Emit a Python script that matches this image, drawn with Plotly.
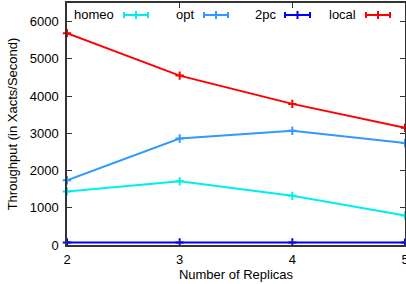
import plotly.graph_objects as go

replicas = [2, 3, 4, 5]
homeo = [1440, 1710, 1320, 790]
opt = [1740, 2860, 3070, 2740]
twopc = [70, 70, 70, 65]
local = [5690, 4550, 3790, 3150]

series_names = ["homeo", "opt", "2pc", "local"]
series_values = [homeo, opt, twopc, local]
series_colors = ["#00EEEE", "#3399FF", "#0000FF", "#FF0000"]

W, H = 406, 284
ML, MR, MT, MB = 67, 1, 3, 39
PW, PH = W - ML - MR, H - MT - MB

fig = go.Figure()
for name, vals, col in zip(series_names, series_values, series_colors):
    fig.add_trace(go.Scatter(
        x=replicas, y=vals, name=name, mode="lines+markers",
        line=dict(color=col, width=2),
        marker=dict(symbol="cross-thin", size=6, line=dict(color=col, width=2), color=col),
        showlegend=False, cliponaxis=False,
    ))

def px2paper_x(px):
    return (px - ML) / PW

def px2paper_y(py):
    return (H - MB - py) / PH

# legend (gnuplot style: text then sample)
leg_text_right = [116, 196, 278, 358]
leg_sample = [(124, 148), (204, 228), (285, 310), (366, 390)]
leg_y = 15
shapes = []
annotations = []
for name, col, tr, (s0, s1) in zip(series_names, series_colors, leg_text_right, leg_sample):
    annotations.append(dict(
        x=px2paper_x(tr), y=px2paper_y(leg_y), xref="paper", yref="paper",
        text=name, showarrow=False, xanchor="right", yanchor="middle",
        font=dict(family="Liberation Sans, Arial, sans-serif", size=13, color="black"),
    ))
    y = px2paper_y(leg_y)
    yu = px2paper_y(leg_y - 3)
    yd = px2paper_y(leg_y + 3)
    xm = px2paper_x((s0 + s1) / 2)
    shapes.append(dict(type="line", xref="paper", yref="paper", x0=px2paper_x(s0), x1=px2paper_x(s1), y0=y, y1=y, line=dict(color=col, width=2)))
    for sx in (s0, s1):
        shapes.append(dict(type="line", xref="paper", yref="paper", x0=px2paper_x(sx), x1=px2paper_x(sx), y0=yd, y1=yu, line=dict(color=col, width=2)))
    shapes.append(dict(type="line", xref="paper", yref="paper", x0=xm, x1=xm, y0=px2paper_y(leg_y + 4), y1=px2paper_y(leg_y - 4), line=dict(color=col, width=2)))

axis_font = dict(family="Liberation Sans, Arial, sans-serif", size=13, color="black")

fig.update_layout(
    width=W, height=H,
    margin=dict(l=ML, r=MR, t=MT, b=MB),
    paper_bgcolor="white", plot_bgcolor="white",
    shapes=shapes, annotations=annotations,
    xaxis=dict(
        range=[2, 5], tickvals=replicas, ticks="inside", ticklen=5, tickwidth=1,
        tickcolor="#333", mirror="ticks", showline=True, linecolor="#333", linewidth=1.5,
        showgrid=False, zeroline=False, tickfont=axis_font, automargin=False,
        ticklabelstandoff=2, ticklabeloverflow="allow",
        title=dict(text="Number of Replicas", font=axis_font, standoff=0),
    ),
    yaxis=dict(
        range=[0, 6500], tickvals=[0, 1000, 2000, 3000, 4000, 5000, 6000],
        ticks="inside", ticklen=5, tickwidth=1, tickcolor="#333", mirror="ticks",
        showline=True, linecolor="#333", linewidth=1.5, showgrid=False, zeroline=False,
        tickfont=axis_font, ticklabelstandoff=4, automargin=False,
        ticklabeloverflow="allow",
        title=dict(text="Throughput (in Xacts/Second)", font=axis_font, standoff=9),
    ),
)

fig.write_html("out.html", config={"displayModeBar": False},
               post_script="document.body.style.margin='0';document.body.style.overflow='hidden';")
